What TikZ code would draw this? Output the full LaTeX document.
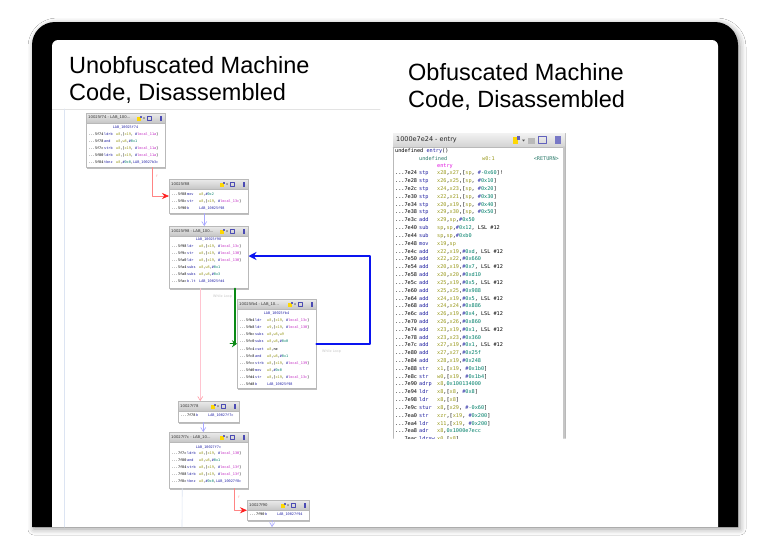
\documentclass[tikz,border=0pt]{standalone}
\usepackage{fontspec}
\setmainfont{Liberation Sans}
\newfontfamily\codefont{DejaVu Sans Mono}
\newfontfamily\barfont{DejaVu Sans}
\usetikzlibrary{arrows.meta,shadows.blur}
\definecolor{mnc}{HTML}{1E1EA0}
\definecolor{regc}{HTML}{9A9A1E}
\definecolor{immc}{HTML}{00806A}
\definecolor{locc}{HTML}{C020C0}
\definecolor{labc}{HTML}{2323A8}
\definecolor{entc}{HTML}{E010E0}
\definecolor{typc}{HTML}{2A7A6A}
\definecolor{edgered}{HTML}{FF2020}
\definecolor{edgelav}{HTML}{A8A8FF}
\definecolor{edgeblue}{HTML}{0A14F0}
\definecolor{edgegreen}{HTML}{0A8A14}
\definecolor{edgepink}{HTML}{FFC4D0}
\definecolor{gutter}{HTML}{DCE4F2}
\newcommand\rg[1]{\textcolor{regc}{#1}}
\newcommand\im[1]{\textcolor{mnc}{\#}\textcolor{immc}{#1}}
\newcommand\lc[1]{\textcolor{mnc}{\#}\textcolor{locc}{#1}}
\newcommand\lb[1]{\textcolor{labc}{#1}}
\tikzset{
  blk/.style={draw=gray!55, fill=white, inner sep=0, anchor=north west, line width=0.5pt},
  blkbar/.style={top color=gray!15, bottom color=gray!45, draw=gray!55, line width=0.4pt},
  tiny/.style={font=\codefont\fontsize{3.5}{4}\selectfont, inner sep=0, anchor=west},
  bartxt/.style={font=\barfont\fontsize{3.8}{4}\selectfont, inner sep=0, anchor=west, text=black!80},
  code/.style={font=\codefont\fontsize{5.2}{6}\selectfont, inner sep=0, anchor=west},
  title/.style={font=\fontsize{23.5}{27}\selectfont, inner sep=0, anchor=base west, align=left},
  looplbl/.style={font=\barfont\fontsize{3.4}{4}\selectfont, inner sep=0, text=gray!45},
}
% name, x, y, w, h, title
\newcommand\block[6]{%
  \fill[gray!50] (#2+1,#3+1.5) rectangle (#2+#4+1,#3+#5+1.5);
  \node[blk, minimum width=#4pt, minimum height=#5pt] (#1) at (#2,#3) {};
  \draw[blkbar] (#2,#3) rectangle (#2+#4,#3+10);
  \node[bartxt] (#1t) at (#2+2,#3+5) {#6};
  \fill[yellow!75!orange] (#2+#4-28,#3+3.5) rectangle (#2+#4-24.5,#3+8);
  \fill[mnc!70] (#2+#4-25,#3+2.5) rectangle (#2+#4-23.5,#3+5);
  \fill[black!70] (#2+#4-22,#3+4.5) -- (#2+#4-20,#3+4.5) -- (#2+#4-21,#3+6) -- cycle;
  \draw[mnc!80, line width=0.5pt] (#2+#4-18,#3+3) rectangle (#2+#4-13.5,#3+7.5);
  \fill[mnc!80] (#2+#4-5.5,#3+2.5) rectangle (#2+#4-3,#3+8);
}
\begin{document}
\begin{tikzpicture}[x=1pt, y=-1pt, >=Stealth, line join=round, line cap=round]
\useasboundingbox (0,0) rectangle (768,552);
\fill[white] (0,0) rectangle (768,552);
% tablet frame
\fill[black, blur shadow={shadow xshift=2pt, shadow yshift=-2pt, shadow blur radius=6pt, shadow opacity=40}]
  (32,527) -- (32,45) arc[start angle=180, end angle=90, radius=23pt] -- (715,22)
  arc[start angle=90, end angle=0, radius=23pt] -- (738,527) -- cycle;
\fill[white] (52,527) -- (52,46) arc[start angle=180, end angle=90, radius=6pt] -- (712,40)
  arc[start angle=90, end angle=0, radius=6pt] -- (718,527) -- cycle;

\node[title] (tleft) at (69,100) {Unobfuscated Machine\\Code, Disassembled};
\node[title] (tright) at (408,107) {Obfuscated Machine\\Code, Disassembled};

\begin{scope}
\clip (52,40) rectangle (718,527);
\draw[gray!22, line width=0.5pt] (52,109) -- (380,109);
\draw[gutter, line width=0.7pt] (64,109) -- (64,527);

% function graph
\block{b1}{86}{113}{79}{54}{10025f74 - LAB\_100...}
\node[tiny, anchor=center] (b1lab) at (125.5,127.5) {\lb{LAB\_10025f74}};
\foreach \a/\m/\o [count=\i] in {5f74/ldrb/{\rg{w8},[\rg{x19}, \lc{local\_11a}]},
    5f78/and/{\rg{w8},\rg{w8},\im{0x1}}, 5f7c/strb/{\rg{w8},[\rg{x19}, \lc{local\_11a}]},
    5f80/ldrb/{\rg{w8},[\rg{x19}, \lc{local\_11a}]}, 5f84/tbnz/{\rg{w8},\im{0x0},\lb{LAB\_10027b3c}}}
  \node[tiny] (b1c\i) at (88.5,127.3+7*\i) {\makebox[15.5pt][l]{...\a}\makebox[12pt][l]{\textcolor{mnc}{\m}}\o};

\block{b2}{169}{179}{79}{34}{10025f88}
\foreach \a/\m/\o [count=\i] in {5f88/mov/{\rg{w8},\im{0x2}},
    5f8c/str/{\rg{w8},[\rg{x19}, \lc{local\_13c}]}, 5f90/b/{\lb{LAB\_10025f98}}}
  \node[tiny] (b2c\i) at (171.5,187.3+7*\i) {\makebox[15.5pt][l]{...\a}\makebox[12pt][l]{\textcolor{mnc}{\m}}\o};

\block{b3}{169}{226}{79}{62}{10025f98 - LAB\_100...}
\node[tiny, anchor=center] (b3lab) at (208.5,240) {\lb{LAB\_10025f98}};
\foreach \a/\m/\o [count=\i] in {5f98/ldr/{\rg{w8},[\rg{x19}, \lc{local\_13c}]},
    5f9c/str/{\rg{w8},[\rg{x19}, \lc{local\_130}]}, 5fa0/ldr/{\rg{w8},[\rg{x19}, \lc{local\_130}]},
    5fa4/subs/{\rg{w8},\rg{w8},\im{0x1}}, 5fa8/subs/{\rg{w8},\rg{w8},\im{0x3}}, 5fac/b.lt/{\lb{LAB\_10025fd4}}}
  \node[tiny] (b3c\i) at (171.5,239.8+6.9*\i) {\makebox[15.5pt][l]{...\a}\makebox[12pt][l]{\textcolor{mnc}{\m}}\o};

\block{b4}{237}{299}{79}{89}{10025fb4 - LAB\_10...}
\node[tiny, anchor=center] (b4lab) at (276.5,314) {\lb{LAB\_10025fb4}};
\foreach \a/\m/\o [count=\i] in {5fb4/ldr/{\rg{w8},[\rg{x19}, \lc{local\_13c}]},
    5fb8/ldr/{\rg{w9},[\rg{x19}, \lc{local\_130}]}, 5fbc/subs/{\rg{w8},\rg{w8},\rg{w9}},
    5fc0/subs/{\rg{w8},\rg{w8},\im{0x0}}, 5fc4/cset/{\rg{w8},ne}, 5fc8/and/{\rg{w8},\rg{w8},\im{0x1}},
    5fcc/strb/{\rg{w8},[\rg{x19}, \lc{local\_139}]}, 5fd0/mov/{\rg{w8},\im{0x0}},
    5fd4/str/{\rg{w8},[\rg{x19}, \lc{local\_13c}]}, 5fd8/b/{\lb{LAB\_10025f98}}}
  \node[tiny] (b4c\i) at (239.5,313.6+7.07*\i) {\makebox[15.5pt][l]{...\a}\makebox[12pt][l]{\textcolor{mnc}{\m}}\o};

\block{b5}{178}{401}{61}{21}{10027f78}
\node[tiny] (b5c1) at (180.5,416) {\makebox[15.5pt][l]{...7f78}\makebox[12pt][l]{\textcolor{mnc}{b}}\lb{LAB\_10027f7c}};

\block{b6}{169}{432}{79}{56}{10027f7c - LAB\_10...}
\node[tiny, anchor=center] (b6lab) at (208.5,447.5) {\lb{LAB\_10027f7c}};
\foreach \a/\m/\o [count=\i] in {7f7c/ldrb/{\rg{w8},[\rg{x19}, \lc{local\_130}]},
    7f80/and/{\rg{w8},\rg{w8},\im{0x1}}, 7f84/strb/{\rg{w8},[\rg{x19}, \lc{local\_13f}]},
    7f88/ldrb/{\rg{w8},[\rg{x19}, \lc{local\_13f}]}, 7f8c/tbnz/{\rg{w8},\im{0x0},\lb{LAB\_10027f8c}}}
  \node[tiny] (b6c\i) at (171.5,447+6.9*\i) {\makebox[15.5pt][l]{...\a}\makebox[12pt][l]{\textcolor{mnc}{\m}}\o};

\block{b7}{247}{500}{62}{20}{10027f90}
\node[tiny] (b7c1) at (249.5,514.5) {\makebox[15.5pt][l]{...7f90}\makebox[12pt][l]{\textcolor{mnc}{b}}\lb{LAB\_10027f94}};

% edges
\coordinate (rk1) at (152,196);
\coordinate (lp) at (370,256);
\coordinate (b6out) at (182,527);
\coordinate (b7out) at (272,527);
\draw[edgered!55, line width=0.6pt, -{Stealth[length=7pt, width=6pt, color=edgered]}] (b1.south -| rk1) |- (b2.west |- rk1);
\draw[edgelav, line width=0.6pt, -{Straight Barb[length=4pt, width=5pt]}] ([xshift=-4.5pt]b2.south) -- ([xshift=-4.5pt]b3.north);
\draw[edgeblue, line width=2.4pt, -{Stealth[length=8pt, width=8pt]}] (b4.east) -| (lp) -- (b3.east |- lp);
\draw[edgegreen, line width=2pt] ([xshift=26.5pt]b3.south) |- ([xshift=-3pt]b4.west) coordinate (gk);
\draw[edgegreen, line width=1pt, -{Stealth[length=5pt, width=7pt]}] ([xshift=-4pt]gk) -- (b4.west);
\draw[edgepink, line width=0.6pt, -{Straight Barb[length=4pt, width=5pt, color=edgepink!80!red]}] ([xshift=-8.5pt]b3.south) -- ([xshift=-8.5pt]b5.north);
\draw[edgelav, line width=0.6pt, -{Straight Barb[length=4pt, width=5pt]}] ([xshift=-5.5pt]b5.south) -- ([xshift=-5.5pt]b6.north);
\draw[edgered!55, line width=0.6pt, -{Stealth[length=7pt, width=6pt, color=edgered]}] ([xshift=25.5pt]b6.south) |- (b7.west);
\draw[edgelav, line width=0.6pt, -{Straight Barb[length=4pt, width=5pt]}] ([xshift=-6pt]b7.south) -- (b7out);
\draw[gutter, line width=0.6pt] ([xshift=-26.5pt]b6.south) -- (b6out);
\node[looplbl, anchor=west] (wl1) at (213,297) {While Loop};
\node[looplbl, anchor=west] (wl2) at (322,352) {While Loop};
\node[looplbl, text=edgered!50] (f1) at (157,176) {f};
\node[looplbl, text=edgered!50] (f2) at (239,497) {f};
\end{scope}

% listing window
\node[fill=white, anchor=north west, minimum width=172pt, minimum height=305pt, inner sep=0] (win) at (393,133) {};
\draw[gray!55, line width=0.6pt] (win.south west) |- (win.north east) -- (win.south east);
\fill[top color=gray!10, bottom color=gray!35] (393,133) rectangle (565,147);
\draw[gray!55, line width=0.5pt] (393,147) -- (565,147);
\draw[gray!45, line width=2pt] (563.5,147) -- (563.5,438);
\node[font=\barfont\fontsize{6.5}{7}\selectfont, anchor=west, inner sep=0, text=black!85] (wint) at (396,140) {1000e7e24 - entry};
\fill[yellow!75!orange] (513,137) rectangle (518,143.5);
\fill[mnc!70] (517,136) rectangle (519.5,139.5);
\fill[black!70] (522,139.5) -- (525,139.5) -- (523.5,141.5) -- cycle;
\fill[gray!55] (528,137.5) rectangle (535,143.5);
\draw[mnc!70, line width=0.6pt] (538,136.5) rectangle (546,143.5);
\fill[mnc!60] (555,136) rectangle (561,144);

\begin{scope}
\clip (393,147.5) rectangle (562,438);
\node[code] (rh1) at (395,151.5) {undefined \textcolor{mnc}{entry}()};
\node[code] (rh2) at (419,159) {\textcolor{typc}{undefined}};
\node[code] (rh3) at (482,159) {\textcolor{regc}{w0:1}};
\node[code, anchor=east] (rh4) at (559,159) {\textcolor{typc}{<RETURN>}};
\node[code] (rh5) at (437,166.3) {\textcolor{entc}{entry}};
\foreach \a/\m/\o [count=\i] in {
    7e24/stp/{\rg{x28},\rg{x27},[\rg{sp}, \im{-0x60}]!}, 7e28/stp/{\rg{x26},\rg{x25},[\rg{sp}, \im{0x10}]},
    7e2c/stp/{\rg{x24},\rg{x23},[\rg{sp}, \im{0x20}]}, 7e30/stp/{\rg{x22},\rg{x21},[\rg{sp}, \im{0x30}]},
    7e34/stp/{\rg{x20},\rg{x19},[\rg{sp}, \im{0x40}]}, 7e38/stp/{\rg{x29},\rg{x30},[\rg{sp}, \im{0x50}]},
    7e3c/add/{\rg{x29},\rg{sp},\im{0x50}}, 7e40/sub/{\rg{sp},\rg{sp},\im{0x12}, LSL \#12},
    7e44/sub/{\rg{sp},\rg{sp},\im{0xb0}}, 7e48/mov/{\rg{x19},\rg{sp}},
    7e4c/add/{\rg{x22},\rg{x19},\im{0xd}, LSL \#12}, 7e50/add/{\rg{x22},\rg{x22},\im{0x660}},
    7e54/add/{\rg{x20},\rg{x19},\im{0x7}, LSL \#12}, 7e58/add/{\rg{x20},\rg{x20},\im{0xd10}},
    7e5c/add/{\rg{x25},\rg{x19},\im{0x5}, LSL \#12}, 7e60/add/{\rg{x25},\rg{x25},\im{0x988}},
    7e64/add/{\rg{x24},\rg{x19},\im{0x5}, LSL \#12}, 7e68/add/{\rg{x24},\rg{x24},\im{0x886}},
    7e6c/add/{\rg{x26},\rg{x19},\im{0x4}, LSL \#12}, 7e70/add/{\rg{x26},\rg{x26},\im{0x860}},
    7e74/add/{\rg{x23},\rg{x19},\im{0x1}, LSL \#12}, 7e78/add/{\rg{x23},\rg{x23},\im{0x360}},
    7e7c/add/{\rg{x27},\rg{x19},\im{0x1}, LSL \#12}, 7e80/add/{\rg{x27},\rg{x27},\im{0x25f}},
    7e84/add/{\rg{x28},\rg{x19},\im{0x248}}, 7e88/str/{\rg{x1},[\rg{x19}, \im{0x1b0}]},
    7e8c/str/{\rg{w0},[\rg{x19}, \im{0x1b4}]}, 7e90/adrp/{\rg{x8},\textcolor{immc}{0x100134000}},
    7e94/ldr/{\rg{x8},[\rg{x8}, \im{0x8}]}, 7e98/ldr/{\rg{x8},[\rg{x8}]},
    7e9c/stur/{\rg{x8},[\rg{x29}, \im{-0x60}]}, 7ea0/str/{\rg{xzr},[\rg{x19}, \im{0x200}]},
    7ea4/ldr/{\rg{x11},[\rg{x19}, \im{0x200}]}, 7ea8/adr/{\rg{x8},\textcolor{immc}{0x1000e7ecc}},
    7eac/ldrsw/{\rg{x0},[\rg{x8}]}}
  \node[code] (r\i) at (395,165.5+7.82*\i) {\makebox[24pt][l]{...\a}\makebox[18pt][l]{\textcolor{mnc}{\m}}\o};
\end{scope}
\end{tikzpicture}
\end{document}
